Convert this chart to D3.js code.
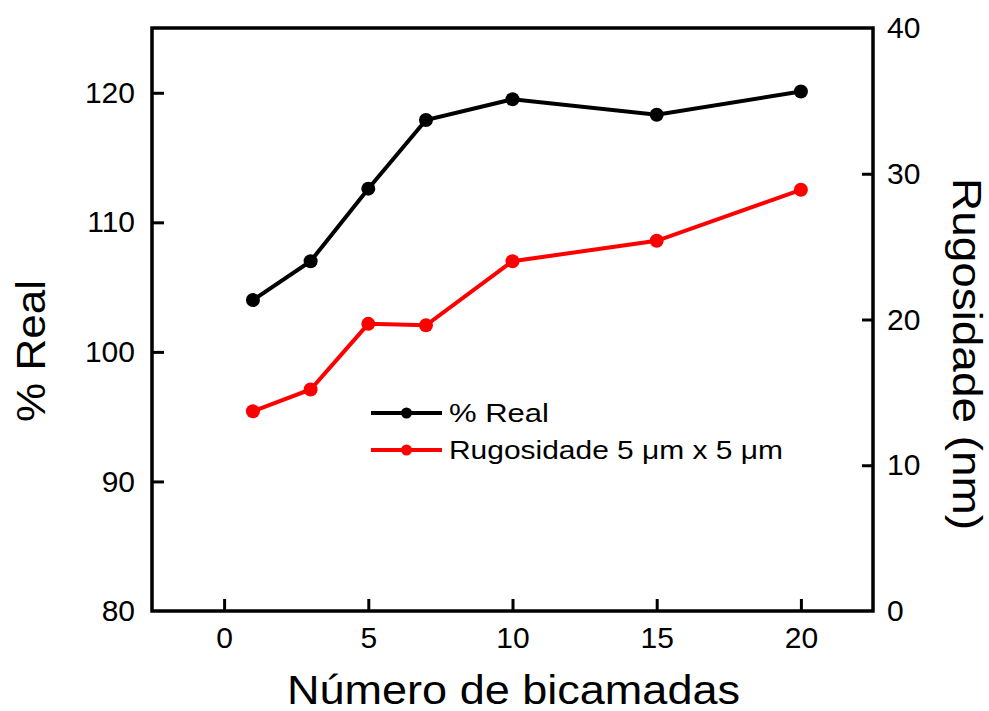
<!DOCTYPE html>
<html>
<head>
<meta charset="utf-8">
<script src="https://cdn.jsdelivr.net/npm/d3@7"></script>
<style>
  body { margin: 0; background: #fff; }
  text { font-family: "Liberation Sans", Arial, sans-serif; fill: #000; }
</style>
</head>
<body>
<div id="chart"></div>
<script>
const w = 989,
      h = 711;
const margin = {left: 152, right: 989 - 873, top: 28, bottom: 711 - 611};

// data
const layers = [1, 3, 5, 7, 10, 15, 20];
const realPct = [104.0, 107.0, 112.6, 117.9, 119.5, 118.3, 120.1];
const roughness = [13.7, 15.2, 19.7, 19.6, 24.0, 25.4, 28.9];
const xTicks = [0, 5, 10, 15, 20];
const yLeftTicks = [80, 90, 100, 110, 120];
const yRightTicks = [0, 10, 20, 30, 40];
const seriesNames = ['% Real', 'Rugosidade 5 \u03bcm x 5 \u03bcm'];
const seriesColors = ['#000000', '#ff0000'];

const svg = d3.select('#chart').append('svg')
              .attr('width', w)
              .attr('height', h);

const x = d3.scaleLinear().domain([-2.5, 22.5]).range([margin.left, w - margin.right]);
const yL = d3.scaleLinear().domain([80, 125]).range([h - margin.bottom, margin.top]);
const yR = d3.scaleLinear().domain([0, 40]).range([h - margin.bottom, margin.top]);

const styleAxis = g => {
    g.select('.domain').remove();
    g.selectAll('.tick line').attr('stroke', '#000').attr('stroke-width', 3);
    g.selectAll('.tick text').attr('font-size', 30).attr('font-family', '"Liberation Sans", Arial, sans-serif');
};

// bottom axis, ticks pointing inward
const xAxis = svg.append('g')
    .attr('transform', `translate(0,${h - margin.bottom})`)
    .call(d3.axisBottom(x).tickValues(xTicks).tickSize(-12).tickPadding(16));
styleAxis(xAxis);

const yAxisL = svg.append('g')
    .attr('transform', `translate(${margin.left},0)`)
    .call(d3.axisLeft(yL).tickValues(yLeftTicks).tickSize(-12).tickPadding(17));
styleAxis(yAxisL);

const yAxisR = svg.append('g')
    .attr('transform', `translate(${w - margin.right},0)`)
    .call(d3.axisRight(yR).tickValues(yRightTicks).tickSize(-11).tickPadding(14));
styleAxis(yAxisR);
yAxisR.selectAll('.tick line').filter(d => d === 0 || d === 40).remove();
yAxisL.selectAll('.tick line').filter(d => d === 80).remove();

// frame
svg.append('rect')
   .attr('x', margin.left).attr('y', margin.top)
   .attr('width', w - margin.left - margin.right)
   .attr('height', h - margin.top - margin.bottom)
   .attr('fill', 'none').attr('stroke', '#000').attr('stroke-width', 3.5);

// series
const drawSeries = (vals, yScale, color) => {
    const pts = layers.map((l, i) => [l, vals[i]]);
    svg.append('path')
       .datum(pts)
       .attr('fill', 'none')
       .attr('stroke', color)
       .attr('stroke-width', 4)
       .attr('d', d3.line().x(d => x(d[0])).y(d => yScale(d[1])));
    svg.append('g').selectAll('circle')
       .data(pts)
       .enter()
       .append('circle')
       .attr('cx', d => x(d[0]))
       .attr('cy', d => yScale(d[1]))
       .attr('r', 7)
       .attr('fill', color);
};
drawSeries(realPct, yL, seriesColors[0]);
drawSeries(roughness, yR, seriesColors[1]);

// legend
const legend = svg.append('g').attr('transform', 'translate(371,413)');
seriesNames.forEach((name, i) => {
    const row = legend.append('g').attr('transform', `translate(0,${i * 37})`);
    row.append('line').attr('x1', 0).attr('x2', 71).attr('y1', 0).attr('y2', 0)
       .attr('stroke', seriesColors[i]).attr('stroke-width', 4);
    row.append('circle').attr('cx', 35.5).attr('cy', 0).attr('r', 5.5).attr('fill', seriesColors[i]);
    row.append('text').attr('x', 78).attr('y', 9).attr('font-size', 25).text(name)
       .attr('textLength', i === 0 ? 100 : 334).attr('lengthAdjust', 'spacingAndGlyphs');
});

// axis titles
svg.append('text')
   .attr('x', 513.5).attr('y', 704)
   .attr('text-anchor', 'middle')
   .attr('font-size', 40)
   .attr('textLength', 453).attr('lengthAdjust', 'spacingAndGlyphs')
   .text('Número de bicamadas');

svg.append('text')
   .attr('transform', 'translate(45,351) rotate(-90)')
   .attr('text-anchor', 'middle')
   .attr('font-size', 40)
   .attr('textLength', 142).attr('lengthAdjust', 'spacingAndGlyphs')
   .text('% Real');

svg.append('text')
   .attr('transform', 'translate(953,354) rotate(90)')
   .attr('text-anchor', 'middle')
   .attr('font-size', 40)
   .attr('textLength', 352).attr('lengthAdjust', 'spacingAndGlyphs')
   .text('Rugosidade (nm)');
</script>
</body>
</html>
